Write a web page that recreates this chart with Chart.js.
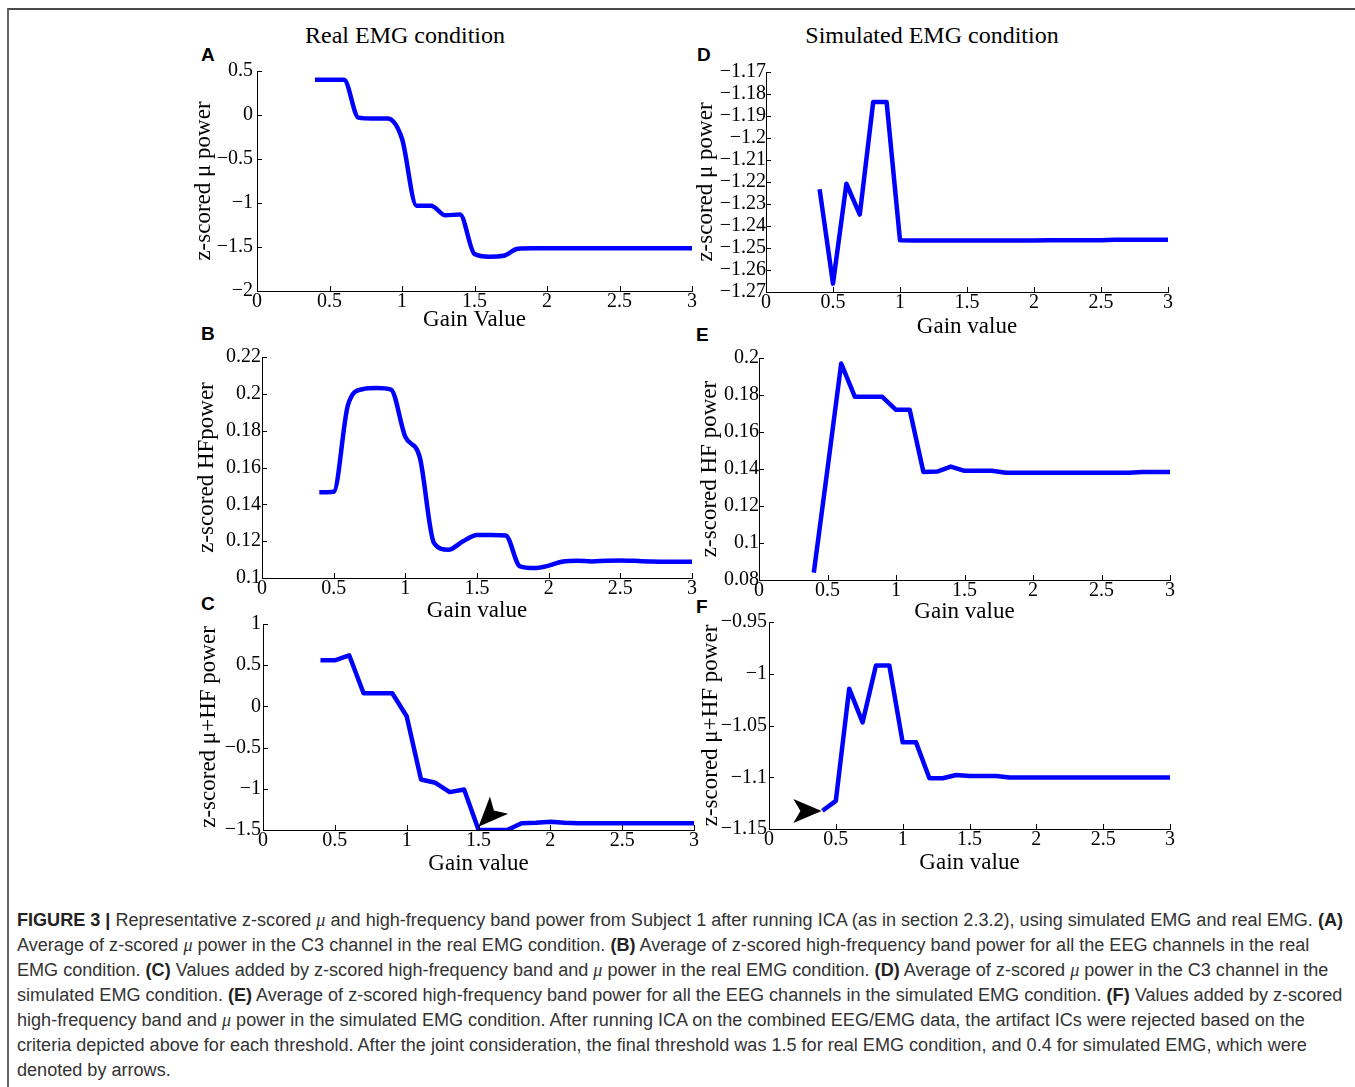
<!DOCTYPE html>
<html><head><meta charset="utf-8">
<script src="https://cdn.jsdelivr.net/npm/chart.js@4.4.1/dist/chart.umd.min.js"></script>
<style>
html,body{margin:0;padding:0;background:#fff;}
body{width:1355px;height:1087px;position:relative;overflow:hidden;}
.frame{position:absolute;left:7px;top:8px;width:1400px;height:1200px;border-top:2px solid #4a4a4a;border-left:2px solid #666;}
canvas{position:absolute;}
.title{position:absolute;top:23px;font-family:'Liberation Serif','Times New Roman',serif;font-size:24px;line-height:24px;color:#000;white-space:nowrap;transform:translateX(-50%);}
.letter{position:absolute;font-family:'Liberation Sans',Arial,sans-serif;font-weight:bold;font-size:19px;line-height:19px;color:#000;}
.caption{position:absolute;left:17px;top:907.5px;font-family:'Liberation Sans Narrow','Liberation Sans',Arial,sans-serif;font-size:18px;line-height:25px;color:#333;white-space:nowrap;transform-origin:0 0;}
.caption b{font-weight:bold;color:#222;}
.caption i{font-family:'Liberation Serif',serif;font-style:italic;}
</style></head>
<body>
<div class="frame"></div>
<div class="title" style="left:405px">Real EMG condition</div>
<div class="title" style="left:932px">Simulated EMG condition</div>
<div class="letter" style="left:201px;top:45px">A</div>
<div class="letter" style="left:201px;top:324px">B</div>
<div class="letter" style="left:201px;top:594px">C</div>
<div class="letter" style="left:697px;top:45px">D</div>
<div class="letter" style="left:696px;top:325px">E</div>
<div class="letter" style="left:696px;top:597px">F</div>
<div class="caption" id="cap">
<span class="ln" id="ln1"><b>FIGURE 3 |</b> Representative z-scored <i>μ</i> and high-frequency band power from Subject 1 after running ICA (as in section 2.3.2), using simulated EMG and real EMG. <b>(A)</b></span><br>
<span class="ln">Average of z-scored <i>μ</i> power in the C3 channel in the real EMG condition. <b>(B)</b> Average of z-scored high-frequency band power for all the EEG channels in the real</span><br>
<span class="ln">EMG condition. <b>(C)</b> Values added by z-scored high-frequency band and <i>μ</i> power in the real EMG condition. <b>(D)</b> Average of z-scored <i>μ</i> power in the C3 channel in the</span><br>
<span class="ln">simulated EMG condition. <b>(E)</b> Average of z-scored high-frequency band power for all the EEG channels in the simulated EMG condition. <b>(F)</b> Values added by z-scored</span><br>
<span class="ln">high-frequency band and <i>μ</i> power in the simulated EMG condition. After running ICA on the combined EEG/EMG data, the artifact ICs were rejected based on the</span><br>
<span class="ln">criteria depicted above for each threshold. After the joint consideration, the final threshold was 1.5 for real EMG condition, and 0.4 for simulated EMG, which were</span><br>
<span class="ln">denoted by arrows.</span>
</div>
<script>
// ---- data ----
const gainValues = [0.4,0.5,0.6,0.7,0.8,0.9,1.0,1.1,1.2,1.3,1.4,1.5,1.6,1.7,1.8,1.9,2.0,2.1,2.2,2.3,2.4,2.5,2.6,2.7,2.8,2.9,3.0];
const muPowerReal = [0.40,0.40,0.40,-0.03,-0.04,-0.04,-0.27,-1.03,-1.03,-1.14,-1.13,-1.58,-1.61,-1.60,-1.52,-1.515,-1.515,-1.515,-1.515,-1.515,-1.515,-1.515,-1.515,-1.515,-1.515,-1.515,-1.515];
const hfPowerReal = [0.1465,0.1468,0.194,0.2025,0.2031,0.2023,0.1766,0.1658,0.119,0.1153,0.1198,0.1234,0.1234,0.1231,0.1063,0.1054,0.1067,0.109,0.1094,0.109,0.1094,0.1095,0.1093,0.109,0.1088,0.1088,0.1088];
const sumPowerReal = [0.559,0.559,0.62,0.16,0.16,0.16,-0.12,-0.887,-0.927,-1.04,-1.008,-1.498,-1.5,-1.5,-1.417,-1.413,-1.40,-1.413,-1.417,-1.417,-1.417,-1.417,-1.417,-1.417,-1.417,-1.417,-1.417];
const muPowerSim = [-1.2233,-1.2662,-1.2208,-1.2348,-1.1836,-1.1836,-1.2465,-1.2466,-1.2466,-1.2466,-1.2466,-1.2466,-1.2466,-1.2466,-1.2466,-1.2466,-1.2466,-1.2465,-1.2465,-1.2465,-1.2465,-1.2465,-1.2463,-1.2463,-1.2463,-1.2463,-1.2463];
const hfPowerSim = [0.084,0.14,0.197,0.179,0.179,0.179,0.172,0.172,0.1384,0.1386,0.1413,0.139,0.139,0.139,0.138,0.138,0.138,0.138,0.138,0.138,0.138,0.138,0.138,0.138,0.1384,0.1384,0.1384];
const sumPowerSim = [-1.1324,-1.1228,-1.0144,-1.047,-0.992,-0.992,-1.0663,-1.0663,-1.101,-1.101,-1.0978,-1.0987,-1.0987,-1.0987,-1.1003,-1.1003,-1.1003,-1.1003,-1.1003,-1.1003,-1.1003,-1.1003,-1.1003,-1.1003,-1.1003,-1.1003,-1.1003];

const xTicks = [0,0.5,1,1.5,2,2.5,3];
const yTicksA = [-2,-1.5,-1,-0.5,0,0.5];
const yTicksB = [0.1,0.12,0.14,0.16,0.18,0.2,0.22];
const yTicksC = [-1.5,-1,-0.5,0,0.5,1];
const yTicksD = [-1.27,-1.26,-1.25,-1.24,-1.23,-1.22,-1.21,-1.2,-1.19,-1.18,-1.17];
const yTicksE = [0.08,0.1,0.12,0.14,0.16,0.18,0.2];
const yTicksF = [-1.15,-1.1,-1.05,-1,-0.95];

const arrowC = {tip:[1.5,-1.46], tail:[1.643,-1.197]};
const arrowF = {tip:[0.394,-1.1326], tail:[0.182,-1.1326]};

// ---- drawing ----
Chart.defaults.font.family = "'Liberation Serif','Times New Roman',serif";
Chart.defaults.color = '#000';

const fmt = v => { let s = String(parseFloat(Number(v).toFixed(4))); if (s === '-0') s = '0'; return s.replace('-', '\u2212'); };

const inwardTicks = {
  id: 'inwardTicks',
  afterDraw(chart) {
    const {ctx, chartArea: a, scales: {x, y}} = chart;
    ctx.save();
    ctx.strokeStyle = '#000'; ctx.lineWidth = 1;
    ctx.beginPath();
    x.ticks.forEach(t => { const p = Math.round(x.getPixelForValue(t.value)) + 0.5; ctx.moveTo(p, a.bottom); ctx.lineTo(p, a.bottom - 5); });
    y.ticks.forEach(t => { const p = Math.round(y.getPixelForValue(t.value)) + 0.5; ctx.moveTo(a.left, p); ctx.lineTo(a.left + 5, p); });
    ctx.stroke();
    const arr = chart.options.plugins.inwardTicks && chart.options.plugins.inwardTicks.arrow;
    if (arr) {
      const tx = x.getPixelForValue(arr.tip[0]), ty = y.getPixelForValue(arr.tip[1]);
      const bx = x.getPixelForValue(arr.tail[0]), by = y.getPixelForValue(arr.tail[1]);
      const dx = bx - tx, dy = by - ty, len = Math.hypot(dx, dy);
      const ux = dx / len, uy = dy / len, nx = -uy, ny = ux;
      const hw = len * 0.42, notch = len * 0.75;
      ctx.beginPath();
      ctx.moveTo(tx, ty);
      ctx.lineTo(bx + nx * hw, by + ny * hw);
      ctx.lineTo(tx + ux * notch, ty + uy * notch);
      ctx.lineTo(bx - nx * hw, by - ny * hw);
      ctx.closePath();
      ctx.fillStyle = '#000';
      ctx.fill();
    }
    ctx.restore();
  }
};

function makePanel(cfg) {
  const W = 75, PT = 15, PR = 15, H = 50;
  const pw = cfg.R - cfg.L, ph = cfg.B - cfg.T;
  const cv = document.createElement('canvas');
  cv.width = W + pw + PR; cv.height = PT + ph + H;
  cv.style.left = (cfg.L - W) + 'px'; cv.style.top = (cfg.T - PT) + 'px';
  document.body.appendChild(cv);
  const yTitlePad = cfg.yTitleX - (cfg.L - W) - 11.5;
  const xTitlePad = cfg.B + H - 11.5 - cfg.xTitleY;
  new Chart(cv, {
    type: 'line',
    data: { datasets: [{
      data: gainValues.map((g, i) => ({x: g, y: cfg.values[i]})),
      borderColor: '#0000ff', borderWidth: 4.5, pointRadius: 0, fill: false,
      cubicInterpolationMode: cfg.smooth ? 'monotone' : 'default', tension: 0,
      borderJoinStyle: 'round', borderCapStyle: 'butt'
    }]},
    options: {
      responsive: false, animation: false, devicePixelRatio: 1, events: [],
      layout: { padding: { top: PT, right: PR, left: 0, bottom: 0 } },
      plugins: { legend: {display: false}, tooltip: {enabled: false}, inwardTicks: { arrow: cfg.arrow || null } },
      scales: {
        x: {
          type: 'linear', min: 0, max: 3,
          afterBuildTicks: s => { s.ticks = xTicks.map(v => ({value: v})); },
          afterFit: s => { s.height = H; },
          grid: { display: true, drawOnChartArea: false, drawTicks: false },
          border: { display: true, color: '#000', width: 1 },
          ticks: { padding: 1, maxRotation: 0, minRotation: 0, autoSkip: false, font: {size: 20, lineHeight: 1}, color: '#000', callback: fmt },
          title: { display: true, text: cfg.xTitle, font: {size: 23, lineHeight: 1}, color: '#000', padding: {top: 0, bottom: xTitlePad} }
        },
        y: {
          type: 'linear', min: cfg.yTicks[0], max: cfg.yTicks[cfg.yTicks.length - 1],
          afterBuildTicks: s => { s.ticks = cfg.yTicks.map(v => ({value: v})); },
          afterFit: s => { s.width = W; },
          grid: { display: true, drawOnChartArea: false, drawTicks: false },
          border: { display: true, color: '#000', width: 1 },
          ticks: { padding: cfg.yPad, autoSkip: false, font: {size: 20, lineHeight: 1}, color: '#000', callback: fmt },
          title: { display: true, text: cfg.yTitle, font: {size: 23, lineHeight: 1}, color: '#000', padding: {top: yTitlePad, bottom: 0} }
        }
      }
    },
    plugins: [inwardTicks]
  });
}

makePanel({L:257, T:71, R:692, B:291, yTitleX:204, xTitleY:320, values: muPowerReal, yTicks: yTicksA, smooth: true, yPad: 4, xTitle: 'Gain Value', yTitle: 'z-scored \u03bc power'});
makePanel({L:262, T:357, R:692, B:578, yTitleX:207, xTitleY:611, values: hfPowerReal, yTicks: yTicksB, smooth: true, yPad: 1, xTitle: 'Gain value', yTitle: 'z-scored HFpower'});
makePanel({L:263, T:624, R:694, B:830, yTitleX:209, xTitleY:864, values: sumPowerReal, yTicks: yTicksC, smooth: false, yPad: 2, xTitle: 'Gain value', yTitle: 'z-scored \u03bc+HF power', arrow: arrowC});
makePanel({L:766, T:72, R:1168, B:292, yTitleX:706, xTitleY:327, values: muPowerSim, yTicks: yTicksD, smooth: false, yPad: 0, xTitle: 'Gain value', yTitle: 'z-scored \u03bc power'});
makePanel({L:759, T:358, R:1170, B:580, yTitleX:710, xTitleY:612, values: hfPowerSim, yTicks: yTicksE, smooth: false, yPad: 0, xTitle: 'Gain value', yTitle: 'z-scored HF power'});
makePanel({L:769, T:622, R:1170, B:829, yTitleX:711, xTitleY:863, values: sumPowerSim, yTicks: yTicksF, smooth: false, yPad: 2, xTitle: 'Gain value', yTitle: 'z-scored \u03bc+HF power', arrow: arrowF});

// caption width fit
const ln1 = document.getElementById('ln1');
const w1 = ln1.getBoundingClientRect().width;
document.getElementById('cap').style.transform = 'scaleX(' + (1326 / w1) + ')';
</script>
</body></html>
